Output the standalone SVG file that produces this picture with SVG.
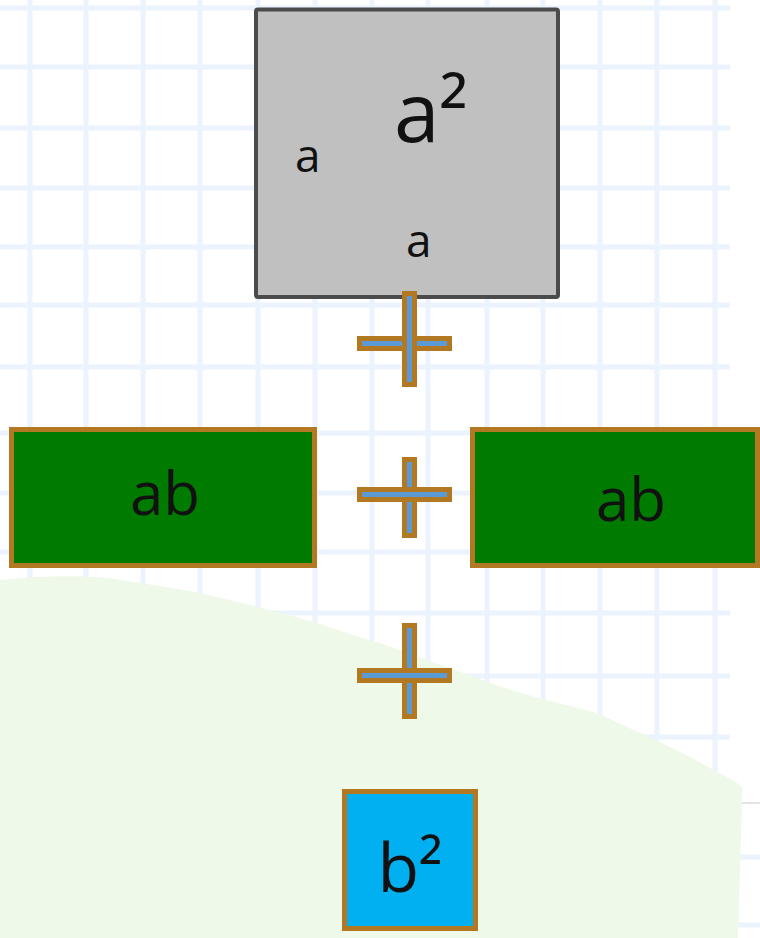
<svg xmlns="http://www.w3.org/2000/svg" width="760" height="938" viewBox="0 0 760 938">
<style>
.grid line{stroke:#ebf4fe;stroke-width:5}
.bar{fill:#5b9bd5;stroke:#b27822;stroke-width:5}
.box{stroke:#b27822;stroke-width:5}
.t{font-family:"Open Sans","Noto Sans",sans-serif;fill:#111}
</style>
<rect x="0" y="0" width="760" height="938" fill="#ffffff"/>
<g id="grid" class="grid">
<line x1="30" y1="0" x2="30" y2="938"/>
<line x1="86" y1="0" x2="86" y2="938"/>
<line x1="143" y1="0" x2="143" y2="938"/>
<line x1="200" y1="0" x2="200" y2="938"/>
<line x1="258" y1="0" x2="258" y2="938"/>
<line x1="315" y1="0" x2="315" y2="938"/>
<line x1="372" y1="0" x2="372" y2="938"/>
<line x1="428" y1="0" x2="428" y2="938"/>
<line x1="487" y1="0" x2="487" y2="938"/>
<line x1="543" y1="0" x2="543" y2="938"/>
<line x1="600" y1="0" x2="600" y2="938"/>
<line x1="657" y1="0" x2="657" y2="938"/>
<line x1="715" y1="0" x2="715" y2="938"/>
<line x1="0" y1="8" x2="730" y2="8"/>
<line x1="0" y1="67" x2="730" y2="67"/>
<line x1="0" y1="128" x2="730" y2="128"/>
<line x1="0" y1="188" x2="730" y2="188"/>
<line x1="0" y1="247" x2="730" y2="247"/>
<line x1="0" y1="305" x2="730" y2="305"/>
<line x1="0" y1="367" x2="730" y2="367"/>
<line x1="0" y1="433" x2="730" y2="433"/>
<line x1="0" y1="493" x2="730" y2="493"/>
<line x1="0" y1="552" x2="730" y2="552"/>
<line x1="0" y1="613" x2="730" y2="613"/>
<line x1="0" y1="676" x2="730" y2="676"/>
<line x1="0" y1="737" x2="730" y2="737"/>
<line x1="0" y1="857" x2="760" y2="857"/>
<line x1="0" y1="925" x2="760" y2="925"/>
</g>
<path id="blob" d="M0,580 C40,576 90,574 127,581 C160,586 185,590 200,593 C250,605 290,614 313,622 C340,630 360,638 380,643 C420,658 460,671 490,683 C530,697 570,705 597,713 C640,733 690,755 713,770 L733,780 L742,787 L742,803 L738,938 L0,938 Z" fill="#eff9e9"/>
<line x1="742" y1="803" x2="760" y2="803" stroke="#c8c8c8" stroke-width="1"/>
<g id="a2">
<rect x="256" y="9.5" width="302" height="287.5" rx="2" fill="#c0c0c0" stroke="#4b4b4b" stroke-width="4"/>
<text class="t" x="394" y="142" font-size="82">a²</text>
<text class="t" x="295" y="172" font-size="46">a</text>
<text class="t" x="406" y="257" font-size="46">a</text>
</g>
<g id="connectors">
<g id="plus1">
<rect class="bar" x="359.5" y="338.5" width="90" height="10"/>
<rect class="bar" x="404.5" y="293.5" width="10" height="91"/>
</g>
<g id="plus2">
<rect class="bar" x="404.5" y="459.5" width="10" height="76"/>
<rect class="bar" x="359.5" y="489.5" width="90" height="10"/>
</g>
<g id="plus3">
<rect class="bar" x="404.5" y="625.5" width="10" height="91"/>
<rect class="bar" x="359.5" y="670.5" width="90" height="10"/>
</g>
</g>
<g id="ab-left">
<rect class="box" x="11.5" y="429.5" width="303" height="136" fill="#007b00"/>
<text class="t" x="165" y="515" font-size="60" text-anchor="middle">ab</text>
</g>
<g id="ab-right">
<rect class="box" x="472.5" y="429.5" width="285" height="136" fill="#007b00"/>
<text class="t" x="631" y="521" font-size="60" text-anchor="middle">ab</text>
</g>
<g id="b2">
<rect class="box" x="344.5" y="791.5" width="131" height="137" fill="#00b0f0"/>
<text class="t" x="410" y="892" font-size="68" text-anchor="middle">b²</text>
</g>
</svg>
